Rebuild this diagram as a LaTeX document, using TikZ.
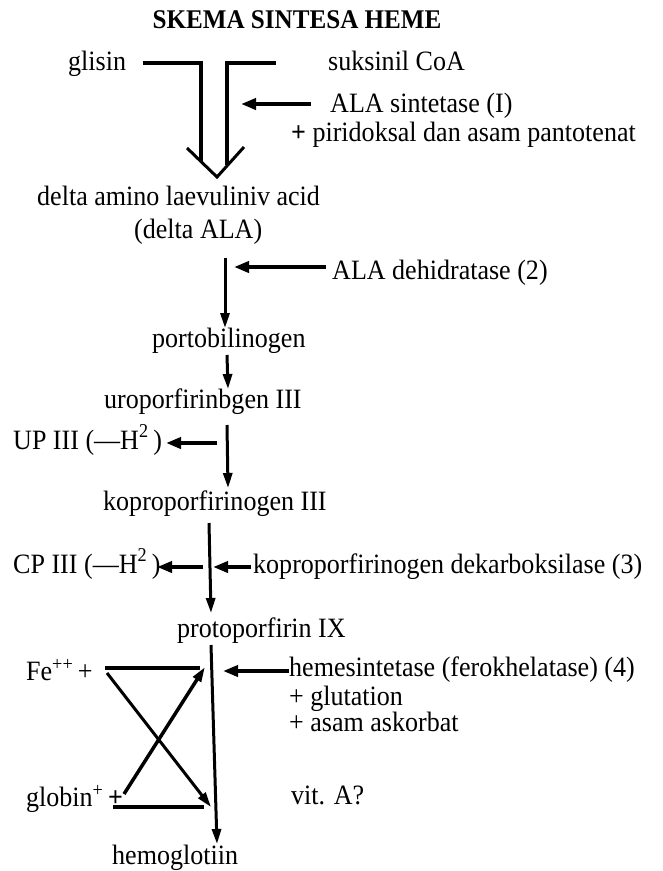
\documentclass[tikz,border=0pt]{standalone}
\usepackage{fontspec}
\setmainfont{Liberation Serif}[FakeStretch=0.93]
\usetikzlibrary{arrows.meta}
\begin{document}
\begin{tikzpicture}[x=1pt,y=-1pt,
  lbl/.style={anchor=base west,inner sep=0pt,font=\fontsize{28}{32}\selectfont},
  flow/.style={line width=3pt,-{Triangle[length=15pt,width=9pt]}},
  enzyme/.style={line width=4pt,-{Triangle[length=15pt,width=11pt]}},
  bar/.style={line width=3.5pt},
  vee/.style={line width=3pt,line join=miter}]
\useasboundingbox (0,0) rectangle (662,871);

% title
\node[anchor=base,inner sep=0pt,font=\fontsize{27}{30}\selectfont\bfseries] (title) at (297,28) {SKEMA SINTESA HEME};

% substrates and enzymes
\node[lbl] (glisin) at (68,70) {glisin};
\node[lbl] (suksinil) at (328,70) {suksinil CoA};
\node[lbl] (alasin) at (330,112) {ALA sintetase (I)};
\node[lbl] (pirid) at (291,141) {\textbf{+} piridoksal dan asam pantotenat};
\node[lbl] (dala1) at (37,205) {delta amino laevuliniv acid};
\node[lbl] (dala2) at (134,238) {(delta ALA)};
\node[lbl] (aladeh) at (332,279) {ALA dehidratase (2)};
\node[lbl] (porto) at (152,347) {portobilinogen};
\node[lbl] (uro) at (104,408) {uroporfirinbgen III};
\node[lbl] (upiii) at (13,449) {UP III (—H\raisebox{2pt}{\textsuperscript{2}}\,)};
\node[lbl] (kopro) at (103,510) {koproporfirinogen III};
\node[lbl] (cpiii) at (13,573) {CP III (—H\raisebox{2pt}{\textsuperscript{2}}\,)};
\node[lbl] (dekarb) at (253,573) {koproporfirinogen dekarboksilase (3)};
\node[lbl] (proto) at (177,637) {protoporfirin IX};
\node[lbl] (fe) at (26,680) {Fe\textsuperscript{++}\,+};
\node[lbl] (hemes) at (289,676) {hemesintetase (ferokhelatase) (4)};
\node[lbl] (gluta) at (289,705) {+ glutation};
\node[lbl] (askor) at (289,731) {+ asam askorbat};
\node[lbl] (vita) at (291,804) {vit. A?};
\node[lbl] (globin) at (26,806) {globin\textsuperscript{+}\,\textbf{+}};
\node[lbl] (hb) at (112,864) {hemoglotiin};

% condensation of glisin and suksinil CoA
\coordinate (g1) at (143,63);
\coordinate (g2) at (201,63);
\coordinate (g3) at (201,162);
\coordinate (s1) at (276,63);
\coordinate (s2) at (227,63);
\coordinate (s3) at (227,165);
\coordinate (v1) at (187,148);
\coordinate (v2) at (217,177);
\coordinate (v3) at (244,147);
\draw[bar,line join=miter] (g1) -- (g2) -- (g3);
\draw[bar,line join=miter] (s1) -- (s2) -- (s3);
\draw[vee] (v1) -- (v2) -- (v3);
\coordinate (e1a) at (311,104);
\coordinate (e1b) at (241,104);
\draw[enzyme] (e1a) -- (e1b);

% delta ALA to portobilinogen
\coordinate (a1) at (225,258);
\coordinate (a2) at (225,328);
\draw[flow] (a1) -- (a2);
\coordinate (e2a) at (326,267);
\coordinate (e2b) at (234,267);
\draw[enzyme] (e2a) -- (e2b);

% portobilinogen to uroporfirinogen
\coordinate (b1) at (227,355);
\coordinate (b2) at (228,389);
\draw[flow] (b1) -- (b2);

% uroporfirinogen to koproporfirinogen
\coordinate (c1) at (227,425);
\coordinate (c2) at (228,488);
\draw[flow] (c1) -- (c2);
\coordinate (u1) at (217,443);
\coordinate (u2) at (166,443);
\draw[enzyme] (u1) -- (u2);

% koproporfirinogen to protoporfirin
\coordinate (d1) at (209,523);
\coordinate (d2) at (211,613);
\draw[flow] (d1) -- (d2);
\coordinate (cp1) at (203,567);
\coordinate (cp2) at (157,567);
\draw[enzyme] (cp1) -- (cp2);
\coordinate (e3a) at (251,567);
\coordinate (e3b) at (213,567);
\draw[enzyme] (e3a) -- (e3b);

% protoporfirin to hemoglobin
\coordinate (p1) at (211,645);
\coordinate (p2) at (217,844);
\draw[flow] (p1) -- (p2);
\coordinate (e4a) at (289,671);
\coordinate (e4b) at (223,671);
\draw[enzyme] (e4a) -- (e4b);

% iron and globin
\coordinate (f1) at (105,668);
\coordinate (f2) at (200,668);
\coordinate (f3) at (107,673);
\coordinate (f4) at (211,807);
\coordinate (h1) at (124,794);
\coordinate (h2) at (205,667);
\coordinate (h3) at (113,807);
\coordinate (h4) at (204,807);
\draw[bar] (f1) -- (f2);
\draw[flow] (f3) -- (f4);
\draw[flow,line width=3.5pt] (h1) -- (h2);
\draw[bar] (h3) -- (h4);
\end{tikzpicture}
\end{document}
